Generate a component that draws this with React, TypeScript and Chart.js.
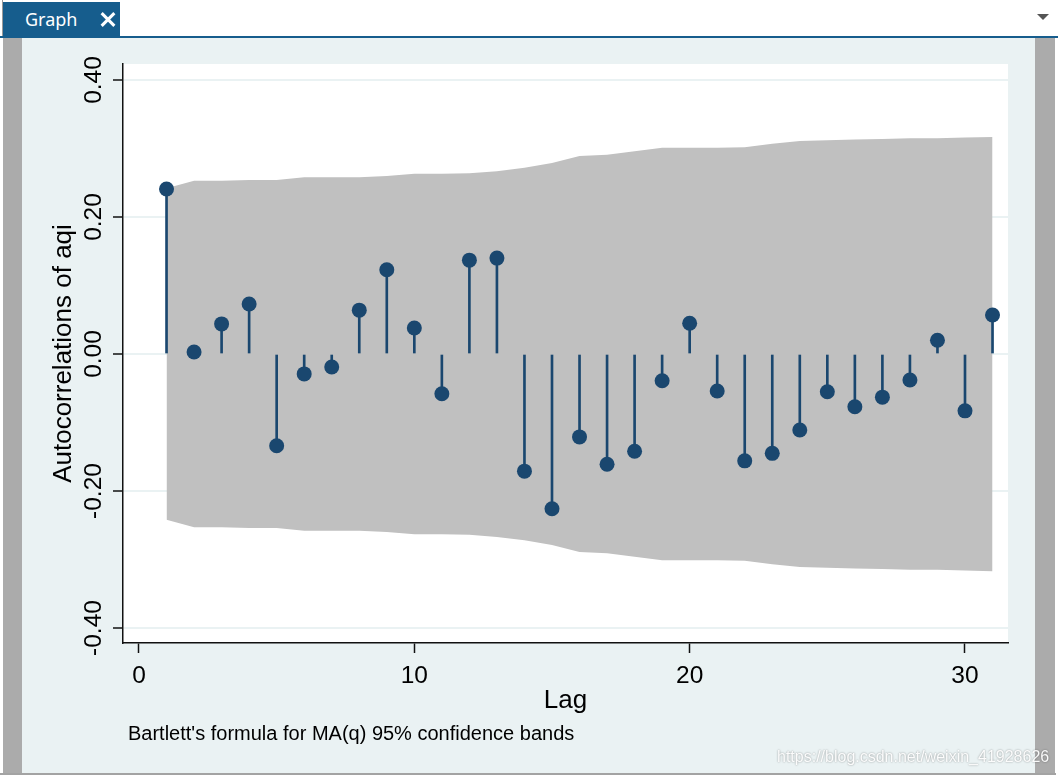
import React, { useEffect, useRef } from 'react';
import { Chart, registerables } from 'chart.js';

Chart.register(...registerables);

// ---- data ----
const lags = [1, 2, 3, 4, 5, 6, 7, 8, 9, 10, 11, 12, 13, 14, 15, 16, 17, 18, 19, 20, 21, 22, 23, 24, 25, 26, 27, 28, 29, 30, 31];
const acfValues = [
  0.241, 0.003, 0.044, 0.073, -0.134, -0.029, -0.019, 0.064, 0.123, 0.038,
  -0.058, 0.137, 0.140, -0.171, -0.226, -0.121, -0.161, -0.142, -0.039, 0.045,
  -0.054, -0.156, -0.145, -0.111, -0.055, -0.077, -0.063, -0.038, 0.020, -0.083,
  0.057,
];
const bandUpper = [
  0.242, 0.253, 0.253, 0.254, 0.254, 0.258, 0.258, 0.258, 0.260, 0.263,
  0.263, 0.264, 0.267, 0.272, 0.279, 0.289, 0.291, 0.296, 0.301, 0.301,
  0.301, 0.302, 0.307, 0.311, 0.312, 0.313, 0.314, 0.315, 0.315, 0.316,
  0.317,
];
const bandLower = bandUpper.map((v) => -v);
const xTicks = [0, 10, 20, 30];
const yTicks = [-0.4, -0.2, 0, 0.2, 0.4];

const X_MIN = -0.581;
const X_MAX = 31.562;
const Y_MIN = -0.4219;
const Y_MAX = 0.4234;

const NAVY = '#1a476f';
const BAND = '#c0c0c0';
const GRID = '#eaf2f3';
const AXIS = '#111111';
const FONT = "'Liberation Sans', Arial, sans-serif";

const noteText = "Bartlett's formula for MA(q) 95% confidence bands";
const watermark = 'https://blog.csdn.net/weixin_41928626';

const plotBg = {
  id: 'plotBg',
  beforeDraw(chart: any) {
    const { ctx, chartArea } = chart;
    ctx.save();
    ctx.fillStyle = '#ffffff';
    ctx.fillRect(chartArea.left, chartArea.top, chartArea.right - chartArea.left, chartArea.bottom - chartArea.top);
    ctx.restore();
  },
};

const notes = {
  id: 'notes',
  afterDraw(chart: any) {
    const { ctx } = chart;
    ctx.save();
    ctx.fillStyle = '#000';
    ctx.font = `20px ${FONT}`;
    ctx.textAlign = 'left';
    ctx.textBaseline = 'alphabetic';
    ctx.fillText(noteText, 128, 740);
    ctx.font = `16px ${FONT}`;
    ctx.shadowColor = 'rgba(0,0,0,0.45)';
    ctx.shadowBlur = 2;
    ctx.fillStyle = 'rgba(255,255,255,0.95)';
    ctx.fillText(watermark, 777, 762);
    ctx.restore();
  },
};

export default function App() {
  const ref = useRef<HTMLCanvasElement>(null);

  useEffect(() => {
    document.body.style.margin = '0';
    const canvas = ref.current;
    if (!canvas) return;
    const acfPts = lags.map((l, i) => ({ x: l, y: acfValues[i] }));
    const upPts = lags.map((l, i) => ({ x: l, y: bandUpper[i] }));
    const loPts = lags.map((l, i) => ({ x: l, y: bandLower[i] }));

    const chart = new Chart(canvas, {
      type: 'line',
      data: {
        datasets: [
          {
            type: 'line',
            data: upPts,
            fill: '+1',
            backgroundColor: BAND,
            borderColor: 'rgba(0,0,0,0)',
            borderWidth: 1,
            pointRadius: 0,
            tension: 0,
            order: 3,
          },
          {
            type: 'line',
            data: loPts,
            fill: false,
            borderColor: 'rgba(0,0,0,0)',
            borderWidth: 1,
            pointRadius: 0,
            tension: 0,
            order: 3,
          },
          {
            type: 'bar',
            data: acfPts,
            backgroundColor: NAVY,
            barThickness: 2,
            grouped: false,
            order: 2,
          },
          {
            type: 'line',
            data: acfPts,
            showLine: false,
            pointRadius: 7.5,
            pointBackgroundColor: NAVY,
            pointBorderColor: NAVY,
            pointBorderWidth: 0,
            order: 1,
          },
        ] as any,
      },
      options: {
        responsive: false,
        animation: false,
        devicePixelRatio: 1,
        layout: { padding: { left: 0, right: 50, top: 64, bottom: 0 }, autoPadding: false } as any,
        plugins: {
          legend: { display: false },
          tooltip: { enabled: false },
          title: { display: false },
        },
        scales: {
          x: {
            type: 'linear',
            min: X_MIN,
            max: X_MAX,
            offset: false,
            afterBuildTicks: (s: any) => {
              s.ticks = xTicks.map((v) => ({ value: v }));
            },
            afterFit: (s: any) => {
              s.height = 133;
            },
            ticks: {
              font: { size: 24.5, family: FONT },
              color: '#000',
              padding: 9,
              minRotation: 0,
              maxRotation: 0,
              autoSkip: false,
              callback: (v: any) => String(v),
            },
            grid: {
              drawOnChartArea: false,
              tickLength: 10,
              tickColor: AXIS,
              tickWidth: 1.5,
              offset: false,
            },
            border: { display: true, color: AXIS, width: 1.5 },
            title: {
              display: true,
              text: 'Lag',
              font: { size: 26, family: FONT },
              color: '#000',
              padding: { top: 0, bottom: 60 },
            },
          },
          y: {
            type: 'linear',
            min: Y_MIN,
            max: Y_MAX,
            afterBuildTicks: (s: any) => {
              s.ticks = yTicks.map((v) => ({ value: v }));
            },
            afterFit: (s: any) => {
              s.width = 123;
            },
            ticks: {
              font: { size: 24.5, family: FONT },
              color: '#000',
              minRotation: 90,
              maxRotation: 90,
              crossAlign: 'center',
              padding: -9,
              autoSkip: false,
              callback: (v: any) => Number(v).toFixed(2),
            },
            grid: {
              color: GRID,
              lineWidth: 2,
              tickLength: 10,
              tickColor: AXIS,
              tickWidth: 1.5,
            },
            border: { display: true, color: AXIS, width: 1.5 },
            title: {
              display: true,
              text: 'Autocorrelations of aqi',
              font: { size: 26, family: FONT },
              color: '#000',
              padding: { top: 48, bottom: 0 },
            },
          },
        },
      } as any,
      plugins: [plotBg, notes],
    });
    return () => chart.destroy();
  }, []);

  const abs = (s: React.CSSProperties): React.CSSProperties => ({ position: 'absolute', ...s });

  return (
    <div style={{ position: 'relative', width: 1058, height: 776, overflow: 'hidden', background: '#ffffff' }}>
      <div style={abs({ left: 2, top: 0, width: 1, height: 38, background: '#9a9a9a' })} />
      <div style={abs({ left: 3, top: 2, width: 117, height: 35, background: '#165d8d' })} />
      <div
        style={abs({
          left: 25,
          top: 7,
          color: '#fff',
          fontFamily: "'Noto Sans', 'Open Sans', sans-serif",
          fontSize: 18,
          lineHeight: '24px',
        })}
      >
        Graph
      </div>
      <div style={abs({ left: 99, top: 18, width: 18, height: 3, background: '#fff', transform: 'rotate(45deg)' })} />
      <div style={abs({ left: 99, top: 18, width: 18, height: 3, background: '#fff', transform: 'rotate(-45deg)' })} />
      <div
        style={abs({
          left: 1037,
          top: 14,
          width: 0,
          height: 0,
          borderLeft: '6px solid transparent',
          borderRight: '6px solid transparent',
          borderTop: '6px solid #555',
        })}
      />
      <div style={abs({ left: 0, top: 36, width: 1058, height: 2, background: '#165d8d' })} />
      <div style={abs({ left: 3, top: 38, width: 19, height: 735, background: '#ababab' })} />
      <div style={abs({ left: 22, top: 38, width: 1013, height: 735, background: GRID })} />
      <div style={abs({ left: 1035, top: 38, width: 20, height: 735, background: '#ababab' })} />
      <div style={abs({ left: 0, top: 773, width: 1056, height: 2, background: '#a3a3a3' })} />
      <canvas ref={ref} width={1058} height={776} style={abs({ left: 0, top: 0, width: 1058, height: 776 })} />
    </div>
  );
}
